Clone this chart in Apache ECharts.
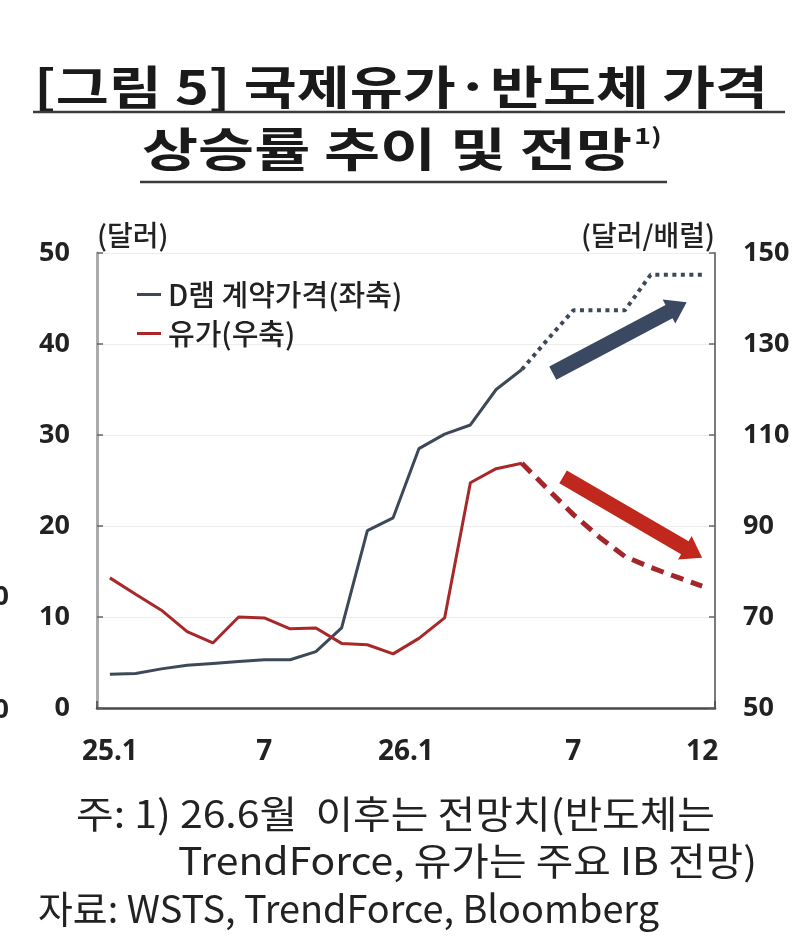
<!DOCTYPE html>
<html>
<head>
<meta charset="utf-8">
<script src="https://cdn.jsdelivr.net/npm/echarts@6/dist/echarts.min.js"></script>
<style>html,body{margin:0;background:#fff}#c{width:800px;height:946px}</style>
</head>
<body>
<div id="c"></div>
<script>
// 월별 카테고리 (25.1 ~ 26.12), 26.6 이후는 전망치
const months = ['25.1', '25.2', '25.3', '25.4', '25.5', '25.6', '25.7', '25.8', '25.9', '25.10', '25.11', '25.12',
  '26.1', '26.2', '26.3', '26.4', '26.5', '26.6', '26.7', '26.8', '26.9', '26.10', '26.11', '26.12']
// x축 눈금 라벨 (표시 위치 → 표시 문자)
const xLabelIdx = [0, 6, 12, 18, 23]
const xLabelText = ['25.1', '7', '26.1', '7', '12']
const yearTickIdx = 12

// D램 계약가격 (달러, 좌축)
const dramActual = [3.7, 3.8, 4.3, 4.7, 4.9, 5.1, 5.3, 5.3, 6.2, 8.8, 19.5, 20.9,
  28.5, 30.1, 31.1, 35.0, 37.2, null, null, null, null, null, null, null]
const dramForecast = [null, null, null, null, null, null, null, null, null, null, null, null,
  null, null, null, null, 37.2, 40.5, 43.7, 43.7, 43.7, 47.6, 47.6, 47.6]

// 유가 (달러/배럴, 우축)
const oilActual = [78.6, 75.0, 71.5, 66.8, 64.3, 70.0, 69.8, 67.4, 67.6, 64.2, 63.9, 61.9,
  65.3, 69.8, 99.5, 102.6, 103.8, null, null, null, null, null, null, null]
const oilForecast = [null, null, null, null, null, null, null, null, null, null, null, null,
  null, null, null, null, 103.8, 98.1, 92.5, 87.6, 83.3, 80.9, 78.8, 76.8]

// 추세 화살표 (꼬리 → 머리, [카테고리 위치, 값])
const dramArrow = [[17.2, 36.8], [22.4, 44.6]]
const oilArrow = [[17.6, 100.8], [23.0, 83.0]]

const C = { dram: '#3d4859', dramArrow: '#3b4862', oil: '#a8282a', oilFc: '#a3262a', oilArrow: '#c0271d', ink: '#222' }
const KR = '"Noto Sans CJK KR", "Noto Sans", sans-serif'
const NUM = '"Noto Sans", "DejaVu Sans", sans-serif'

const chart = echarts.init(document.getElementById('c'))

const option = {
  animation: false,
  backgroundColor: '#fff',
  grid: { left: 97, right: 85, top: 253, bottom: 238 },
  legend: {
    orient: 'vertical', left: 132, top: 275, itemGap: 10, itemWidth: 24, itemHeight: 3,
    icon: 'rect',
    data: ['D램 계약가격(좌축)', '유가(우축)'],
    textStyle: { fontSize: 29, fontWeight: 500, color: C.ink, fontFamily: KR, padding: [0, 0, 0, 2] },
  },
  xAxis: {
    type: 'category', data: months, boundaryGap: true,
    axisLine: { lineStyle: { color: '#4a4a4a', width: 2.5 } },
    axisTick: { show: true, inside: true, length: 7, interval: i => i === yearTickIdx,
      lineStyle: { color: '#4a4a4a', width: 1.5 } },
    axisLabel: {
      interval: i => xLabelIdx.includes(i), margin: 30,
      color: C.ink, fontSize: 28, fontWeight: 'bold', fontFamily: NUM,
      formatter: (v, i) => {
        const t = xLabelText[xLabelIdx.indexOf(i)] ?? v
        return i === yearTickIdx ? '{s|' + t + '}' : t
      },
      rich: { s: { fontSize: 28, fontWeight: 'bold', fontFamily: NUM, color: C.ink, padding: [0, 26, 0, 0] } },
    },
    splitLine: { show: true, interval: i => i === yearTickIdx, lineStyle: { color: '#ececec', width: 1 } },
  },
  yAxis: [
    { type: 'value', min: 0, max: 50, interval: 10, position: 'left',
      name: '(달러)', nameLocation: 'end', nameGap: 4,
      nameTextStyle: { align: 'left', fontSize: 28, fontWeight: 500, color: C.ink, fontFamily: KR },
      axisLine: { show: true, lineStyle: { color: '#ababab', width: 3 } },
      axisTick: { show: true, inside: true, length: 6, lineStyle: { color: '#666', width: 1.5 } },
      axisLabel: { margin: 27, color: C.ink, fontSize: 27, fontWeight: 'bold', fontFamily: NUM },
      splitLine: { show: true, lineStyle: { color: '#ececec', width: 1 } } },
    { type: 'value', min: 50, max: 150, interval: 20, position: 'right',
      name: '(달러/배럴)', nameLocation: 'end', nameGap: 4,
      nameTextStyle: { align: 'right', fontSize: 28, fontWeight: 500, color: C.ink, fontFamily: KR },
      axisLine: { show: true, lineStyle: { color: '#7a7a7a', width: 2 } },
      axisTick: { show: true, inside: true, length: 6, lineStyle: { color: '#666', width: 1.5 } },
      axisLabel: { margin: 28, color: C.ink, fontSize: 27, fontWeight: 'bold', fontFamily: NUM },
      splitLine: { show: false } },
  ],
  series: [
    { name: 'D램 계약가격(좌축)', type: 'line', yAxisIndex: 0, data: dramActual, symbol: 'none',
      lineStyle: { color: C.dram, width: 3 }, itemStyle: { color: C.dram }, z: 3 },
    { name: 'D램 전망', type: 'line', yAxisIndex: 0, data: dramForecast, symbol: 'none',
      lineStyle: { color: C.dram, width: 4, type: [4, 4.5] }, itemStyle: { color: C.dram }, z: 3 },
    { name: '유가(우축)', type: 'line', yAxisIndex: 1, data: oilActual, symbol: 'none',
      lineStyle: { color: C.oil, width: 3 }, itemStyle: { color: C.oil }, z: 3 },
    { name: '유가 전망', type: 'line', yAxisIndex: 1, data: oilForecast, symbol: 'none',
      lineStyle: { color: C.oilFc, width: 5, type: [13, 8] }, itemStyle: { color: C.oilFc }, z: 3 },
  ],
}
chart.setOption(option)

/* 제목·주석: 측정 폭에 맞춰 가로 배율 조정 */
const ctx = document.createElement('canvas').getContext('2d')
function fitText(text, x0, x1, y, size, weight, family, color) {
  ctx.font = `${weight} ${size}px ${family}`
  const w = ctx.measureText(text).width
  return { type: 'text', x: x0, y, scaleX: (x1 - x0) / w, silent: true,
    style: { text, fontSize: size, fontWeight: weight, fontFamily: family, fill: color,
      textAlign: 'left', textVerticalAlign: 'middle', align: 'left', verticalAlign: 'middle' } }
}
function hline(x1, x2, y, w) {
  return { type: 'line', silent: true, shape: { x1, y1: y, x2, y2: y }, style: { stroke: '#3a3a3a', lineWidth: w } }
}

/* 화살표: 데이터 좌표 → 픽셀 */
function toPx(seriesIndex, [pos, val]) {
  const a = chart.convertToPixel({ seriesIndex }, [0, val])
  const b = chart.convertToPixel({ seriesIndex }, [1, val])
  return [a[0] + (b[0] - a[0]) * pos, a[1]]
}
function arrow(seriesIndex, pts, color) {
  const T = toPx(seriesIndex, pts[0]), P = toPx(seriesIndex, pts[1])
  const dx = P[0] - T[0], dy = P[1] - T[1], L = Math.hypot(dx, dy)
  const d = [dx / L, dy / L], n = [-d[1], d[0]]
  const hw = 7.5, hh = 13.5, hl = 20
  const B = [P[0] - d[0] * hl, P[1] - d[1] * hl]
  const p = (o, k) => [o[0] + n[0] * k, o[1] + n[1] * k]
  return { type: 'polygon', silent: true, z: 10,
    shape: { points: [p(T, hw), p(B, hw), p(B, hh), P, p(B, -hh), p(B, -hw), p(T, -hw)] },
    style: { fill: color } }
}

const numStyle = { fontSize: 27, fontWeight: 'bold', fontFamily: NUM, fill: C.ink,
  textAlign: 'right', textVerticalAlign: 'middle', align: 'right', verticalAlign: 'middle' }

chart.setOption({
  graphic: [
    fitText('[그림 5] 국제유가·반도체 가격', 34, 768, 87, 46, 'bold', KR, '#1a1a1a'),
    hline(33, 785, 112, 2.5),
    fitText('상승률 추이 및 전망', 142, 632, 149, 46, 'bold', KR, '#1a1a1a'),
    fitText('1)', 634, 662, 136, 22, 'bold', KR, '#1a1a1a'),
    hline(140, 667, 182, 2.5),
    arrow(1, dramArrow, C.dramArrow),
    arrow(3, oilArrow, C.oilArrow),
    { type: 'text', x: 9, y: 597, silent: true, style: Object.assign({ text: '0' }, numStyle) },
    { type: 'text', x: 9, y: 710, silent: true, style: Object.assign({ text: '0' }, numStyle) },
    fitText('주: 1) 26.6월  이후는 전망치(반도체는', 76, 715, 814, 38, 'normal', KR, '#222'),
    fitText('TrendForce, 유가는 주요 IB 전망)', 178, 757, 861, 38, 'normal', KR, '#222'),
    fitText('자료: WSTS, TrendForce, Bloomberg', 38, 659, 909, 38, 'normal', KR, '#222'),
  ],
})
</script>
</body>
</html>
